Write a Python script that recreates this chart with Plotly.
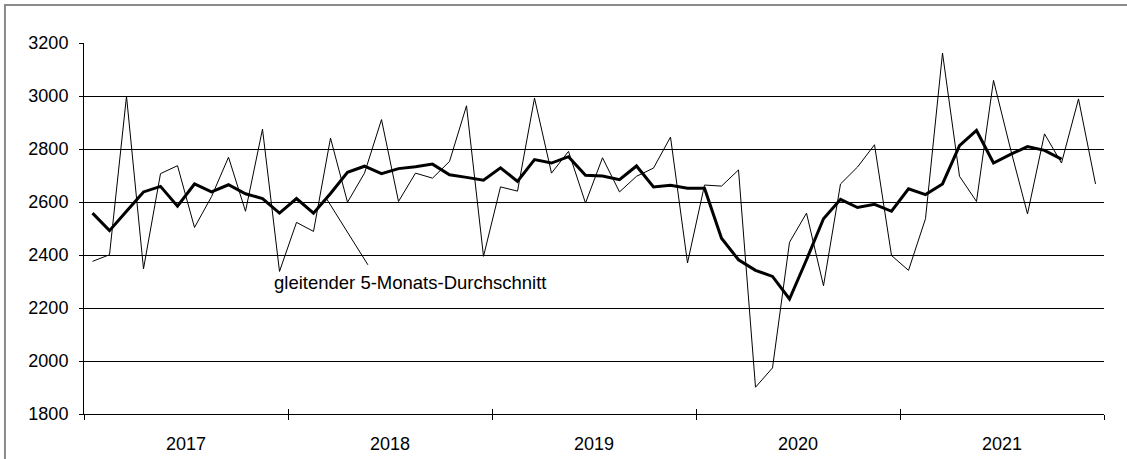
import plotly.graph_objects as go

# Monthly values Jan 2017 .. Dec 2021
years = ["2017", "2018", "2019", "2020", "2021"]
monthly = [
    2376, 2401, 2999, 2348, 2707, 2737, 2504, 2620, 2769, 2565, 2875, 2338,
    2523, 2489, 2841, 2599, 2709, 2911, 2602, 2709, 2690, 2753, 2963, 2395,
    2657, 2641, 2992, 2709, 2791, 2596, 2767, 2638, 2697, 2728, 2845, 2370,
    2664, 2660, 2721, 1901, 1974, 2448, 2558, 2284, 2668, 2732, 2816, 2398,
    2342, 2537, 3162, 2697, 2602, 3059, 2800, 2555, 2857, 2747, 2989, 2668,
]
# gleitender 5-Monats-Durchschnitt (ends two months before the series)
moving_avg = [
    2558, 2492, 2565, 2638, 2659, 2584, 2668, 2638, 2665, 2631, 2613, 2558,
    2613, 2558, 2632, 2712, 2735, 2707, 2726, 2733, 2743, 2703, 2693, 2682,
    2729, 2678, 2760, 2747, 2771, 2701, 2698, 2684, 2736, 2657, 2663, 2652,
    2652, 2463, 2382, 2342, 2319, 2234, 2382, 2537, 2610, 2579, 2591, 2565,
    2650, 2628, 2668, 2813, 2870, 2747, 2780, 2809, 2795, 2762,
]
annotation_text = "gleitender 5-Monats-Durchschnitt"

n = len(monthly)
x_idx = list(range(n))
x_ma = list(range(len(moving_avg)))
year_centers = [12 * k + 5.5 for k in range(len(years))]
year_bounds = [12 * k - 0.5 for k in range(len(years) + 1)]
xr = [-0.5, n - 0.5]

FONT = "Arial, Liberation Sans, sans-serif"

fig = go.Figure()
fig.add_trace(go.Scatter(x=x_idx, y=monthly, mode="lines",
                         line=dict(color="black", width=1), xaxis="x", yaxis="y",
                         showlegend=False, hoverinfo="y"))
fig.add_trace(go.Scatter(x=x_ma, y=moving_avg, mode="lines",
                         line=dict(color="black", width=3), xaxis="x2", yaxis="y",
                         showlegend=False, hoverinfo="y"))

fig.update_layout(
    width=1127, height=459, autosize=False,
    margin=dict(l=84, r=23, t=43, b=45, pad=0, autoexpand=False),
    paper_bgcolor="white", plot_bgcolor="white",
    font=dict(family=FONT, size=18, color="black"),
    xaxis=dict(
        range=xr, showgrid=False, zeroline=False, automargin=False,
        showline=True, linecolor="black", linewidth=1,
        tickmode="array", tickvals=year_centers, ticktext=years,
        ticks="", ticklabelstandoff=13,
        tickfont=dict(family=FONT, size=18, color="black"),
        minor=dict(tickmode="array", tickvals=year_bounds, ticks="outside",
                   ticklen=5, tickcolor="black", tickwidth=1, showgrid=False),
    ),
    xaxis2=dict(
        range=xr, overlaying="x", anchor="y", side="bottom", automargin=False,
        showgrid=False, zeroline=False, showline=False,
        tickmode="array", tickvals=year_bounds, ticks="inside",
        ticklen=5, tickcolor="black", tickwidth=1, showticklabels=False,
    ),
    yaxis=dict(
        range=[1800, 3200], dtick=200, tick0=1800, automargin=False,
        showgrid=True, gridcolor="black", gridwidth=1,
        zeroline=False, showline=True, linecolor="black", linewidth=1,
        ticks="outside", ticklen=4, tickcolor="black",
        ticklabelstandoff=7,
        tickfont=dict(family=FONT, size=18, color="black"),
    ),
)

# text label for the moving average with its leader line
fig.add_annotation(x=10.56, y=2295, xref="x", yref="y", text=annotation_text,
                   showarrow=False, xanchor="left", yanchor="middle",
                   font=dict(family=FONT, size=18.5, color="black"))
fig.add_shape(type="line", xref="x", yref="y", x0=13.78, y0=2611, x1=16.2, y1=2363,
              line=dict(color="black", width=1))

# outer chart frame
fig.add_shape(type="rect", xref="paper", yref="paper",
              x0=-0.0775, y0=-0.16, x1=1.04, y1=1.1024,
              line=dict(color="#8a8a8a", width=2), fillcolor="rgba(0,0,0,0)", layer="below")

fig.write_html("out.html",
               config={"displayModeBar": False},
               post_script="document.body.style.margin='0';document.body.style.overflow='hidden';")
